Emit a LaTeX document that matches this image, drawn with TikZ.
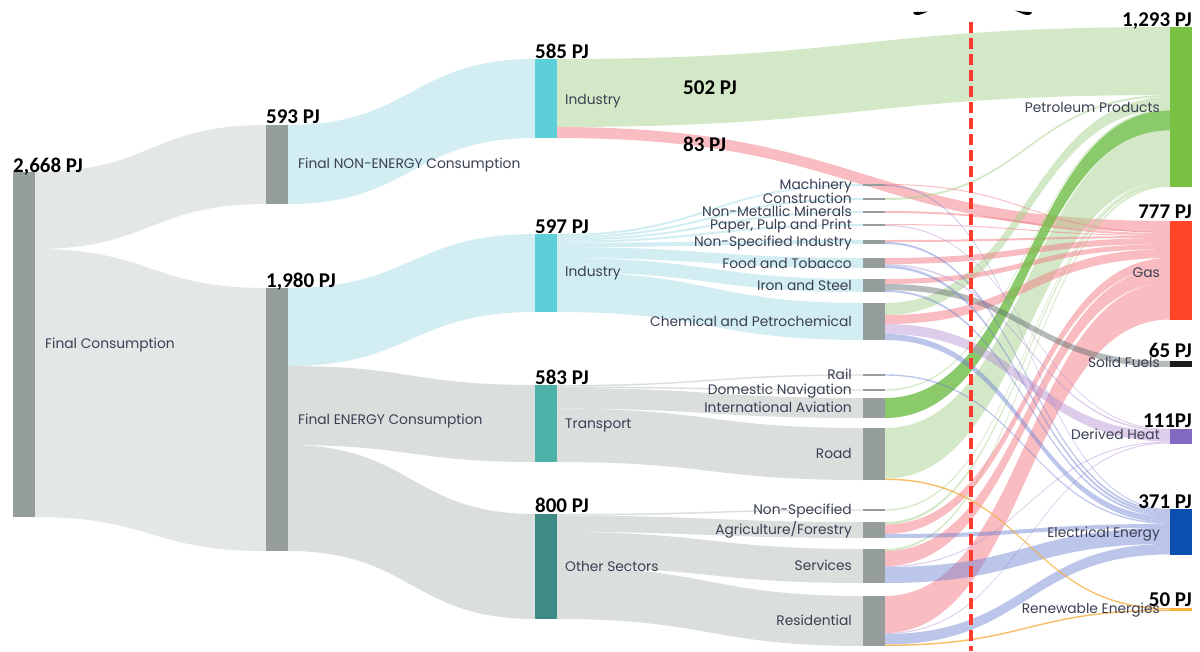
\documentclass[tikz,border=0pt]{standalone}
\usepackage{fontspec}
\newfontfamily\numfont{Carlito}
\newfontfamily\lblfont{Poppins}
\definecolor{bargrey}{HTML}{959E9D}
\definecolor{fgA}{HTML}{E3E7E6}
\definecolor{fgB}{HTML}{DADFDD}
\definecolor{fblue}{HTML}{D2EEF3}
\definecolor{indcyan}{HTML}{5CCFD9}
\definecolor{transcol}{HTML}{4FB2A9}
\definecolor{othercol}{HTML}{3E8B85}
\definecolor{petgreen}{HTML}{78C142}
\definecolor{gasred}{HTML}{FF4428}
\definecolor{solidblk}{HTML}{1C1C1C}
\definecolor{heatpur}{HTML}{8469C2}
\definecolor{elecblue}{HTML}{0B4FAF}
\definecolor{renorange}{HTML}{F7B23B}
\definecolor{pinkbase}{HTML}{F27B85}
\definecolor{greenbase}{HTML}{A9D38E}
\definecolor{aviabase}{HTML}{6FBD45}
\definecolor{bluebase}{HTML}{6C7FD2}
\definecolor{purplebase}{HTML}{B48ED2}
\definecolor{greybase}{HTML}{5D6A68}
\definecolor{orangebase}{HTML}{F5B041}
\definecolor{lbltext}{HTML}{3B3F52}
\definecolor{dashred}{HTML}{FF3B2F}

% a Sankey band: style, x1, top1, bottom1, x2, top2, bottom2
\newcommand\fb[7]{%
  \fill[#1] (#2,#3) .. controls ({(#2+#5)/2},#3) and ({(#2+#5)/2},#6) .. (#5,#6)
    -- (#5,#7) .. controls ({(#2+#5)/2},#7) and ({(#2+#5)/2},#4) .. (#2,#4) -- cycle;}

\begin{document}
\begin{tikzpicture}[x=1pt,y=-1pt,
  num/.style={font=\numfont\bfseries\fontsize{21}{21}\selectfont, inner sep=0pt, text=black},
  lbl/.style={font=\lblfont\fontsize{13.8}{14}\selectfont, inner sep=0pt, text=lbltext},
  fgreen/.style={fill=greenbase, fill opacity=0.5},
  fpink/.style={fill=pinkbase, fill opacity=0.5},
  favia/.style={fill=aviabase, fill opacity=0.8},
  fbl/.style={fill=bluebase, fill opacity=0.45},
  fpur/.style={fill=purplebase, fill opacity=0.45},
  fgr/.style={fill=greybase, fill opacity=0.45},
  forg/.style={fill=orangebase, fill opacity=0.8}]
\useasboundingbox (0,0) rectangle (1200,651);
\fill[white] (0,0) rectangle (1200,651);

% total consumption split
\fb{fgA}{35}{172}{249}{266}{125}{204}
\fb{fgA}{35}{249}{517}{266}{288}{551}
% non-energy / energy to sectors
\fb{fblue}{288}{125}{204}{535}{59}{138}
\fb{fblue}{288}{288}{366}{535}{234}{312}
\fb{fgB}{288}{366}{445}{535}{385}{462}
\fb{fgB}{288}{445}{551}{535}{514}{619}
% industry subsectors
\fb{fblue}{557}{234}{236.2}{863}{184}{186}
\fb{fblue}{557}{236.2}{238.4}{863}{198}{200}
\fb{fblue}{557}{238.4}{240.6}{863}{211}{213}
\fb{fblue}{557}{240.6}{242.8}{863}{224}{226}
\fb{fblue}{557}{242.8}{247.1}{863}{240}{244}
\fb{fblue}{557}{247.1}{258}{863}{258}{268}
\fb{fblue}{557}{258}{272}{863}{279}{292}
\fb{fblue}{557}{272}{312}{863}{303}{340}
% transport subsectors
\fb{fgB}{557}{385}{386.5}{863}{374.3}{375.7}
\fb{fgB}{557}{386.5}{388}{863}{389.3}{390.7}
\fb{fgB}{557}{388}{408.6}{863}{398}{418}
\fb{fgB}{557}{408.6}{462}{863}{428}{480}
% other sectors
\fb{fgB}{557}{514}{515.5}{863}{509.3}{510.7}
\fb{fgB}{557}{515.5}{532}{863}{522}{538}
\fb{fgB}{557}{532}{567.2}{863}{549}{583}
\fb{fgB}{557}{567.2}{619}{863}{596}{646}

% non-energy industry to carriers
\fb{fgreen}{557}{59}{127}{1170}{27}{95}
\fb{fpink}{557}{127}{138}{1170}{221}{232}

% petroleum products
\fb{fgreen}{885}{198}{200}{1170}{95}{97}
\fb{fgreen}{885}{303}{315}{1170}{97}{109}
\fb{fgreen}{885}{389.3}{390.7}{1170}{109}{110.4}
\fb{fgreen}{885}{428}{478.5}{1170}{130.4}{180.9}
\fb{fgreen}{885}{509.3}{510.7}{1170}{180.9}{182.3}
\fb{fgreen}{885}{522}{524.5}{1170}{182.3}{184.8}
\fb{fgreen}{885}{549}{551}{1170}{184.8}{186.8}
% gas
\fb{fpink}{885}{184}{185}{1170}{232}{233}
\fb{fpink}{885}{211}{213}{1170}{233}{235}
\fb{fpink}{885}{224}{225}{1170}{235}{236}
\fb{fpink}{885}{240}{242}{1170}{236}{238}
\fb{fpink}{885}{258}{264}{1170}{238}{244}
\fb{fpink}{885}{279}{284}{1170}{244}{249}
\fb{fpink}{885}{315}{324}{1170}{249}{258}
\fb{fpink}{885}{524.5}{534}{1170}{258}{267.5}
\fb{fpink}{885}{551}{566}{1170}{267.5}{282.5}
\fb{fpink}{885}{596}{633}{1170}{282.5}{319.5}
% international aviation
\fb{favia}{885}{398}{418}{1170}{110.4}{130.4}
% solid fuels
\fb{fgr}{885}{284}{290}{1170}{361}{367}
% derived heat
\fb{fpur}{885}{225}{226}{1170}{429}{430}
\fb{fpur}{885}{264}{265.5}{1170}{430}{431.5}
\fb{fpur}{885}{324}{334}{1170}{431.5}{441.5}
\fb{fpur}{885}{566}{567}{1170}{441.5}{442.5}
\fb{fpur}{885}{633}{634}{1170}{442.5}{443.5}
% electrical energy
\fb{fbl}{885}{185}{186}{1170}{509}{510}
\fb{fbl}{885}{242}{244}{1170}{510}{512}
\fb{fbl}{885}{265.5}{268}{1170}{512}{514.5}
\fb{fbl}{885}{290}{292}{1170}{514.5}{516.5}
\fb{fbl}{885}{334}{340}{1170}{516.5}{522.5}
\fb{fbl}{885}{374.3}{375.7}{1170}{522.5}{523.9}
\fb{fbl}{885}{534}{538}{1170}{523.9}{527.9}
\fb{fbl}{885}{567}{583}{1170}{527.9}{543.9}
\fb{fbl}{885}{634}{644.5}{1170}{543.9}{554.4}
% renewable energies
\fb{forg}{885}{478.5}{480}{1170}{608}{609.5}
\fb{forg}{885}{644.5}{646}{1170}{609.5}{611}

% dashed marker line
\draw[dashred, line width=3.5pt, dash pattern=on 10.5pt off 5.5pt] (971,22) -- (971,651);
% small black marks along the top edge
\fill[black] (913,12.5) .. controls (914,15.5) and (918,15.5) .. (922,14) -- (928,11.5) -- (921,12) .. controls (918,12) and (915,11.5) .. cycle;
\fill[black] (1032,12.5) .. controls (1031,15.5) and (1027,15.5) .. (1023,14) -- (1015,10.5) -- (1022,11.5) .. controls (1025,12) and (1029,11.5) .. cycle;

% bars
\fill[bargrey] (13,172) rectangle (35,517);
\fill[bargrey] (266,125) rectangle (288,204);
\fill[bargrey] (266,288) rectangle (288,551);
\fill[indcyan] (535,59) rectangle (557,138);
\fill[indcyan] (535,234) rectangle (557,312);
\fill[transcol] (535,385) rectangle (557,462);
\fill[othercol] (535,514) rectangle (557,619);
\foreach \t/\b in {184/186,198/200,211/213,224/226,240/244,258/268,279/292,303/340,
  374.3/375.7,389.3/390.7,398/418,428/480,509.3/510.7,522/538,549/583,596/646}
  \fill[bargrey] (863,\t) rectangle (885,\b);
\fill[petgreen] (1170,27) rectangle (1192,187);
\fill[gasred] (1170,221) rectangle (1192,320);
\fill[solidblk] (1170,361) rectangle (1192,367);
\fill[heatpur] (1170,429) rectangle (1192,443.5);
\fill[elecblue] (1170,509) rectangle (1192,555);
\fill[renorange] (1170,608) rectangle (1192,611);

% values
\node[num, anchor=base west] (vtot) at (13,172) {2,668 PJ};
\node[num, anchor=base west] (vne) at (266,123) {593 PJ};
\node[num, anchor=base west] (ven) at (266,287) {1,980 PJ};
\node[num, anchor=base west] (vind1) at (535,58) {585 PJ};
\node[num, anchor=base west] (vind2) at (535,233) {597 PJ};
\node[num, anchor=base west] (vtra) at (535,384) {583 PJ};
\node[num, anchor=base west] (voth) at (535,512) {800 PJ};
\node[num, anchor=base west] (vpet1) at (683,94.5) {502 PJ};
\node[num, anchor=base west] (vgas1) at (683,151) {83 PJ};
\node[num, anchor=base east] (vpet) at (1192,26) {1,293 PJ};
\node[num, anchor=base east] (vgas) at (1192,218) {777 PJ};
\node[num, anchor=base east] (vsol) at (1192,357) {65 PJ};
\node[num, anchor=base east] (vhea) at (1192,427) {111PJ};
\node[num, anchor=base east] (vele) at (1192,508) {371 PJ};
\node[num, anchor=base east] (vren) at (1192,606) {50 PJ};

% names
\node[lbl, anchor=base west] (ltot) at (45,348.5) {Final Consumption};
\node[lbl, anchor=base west] (lne) at (298,168.5) {Final NON-ENERGY Consumption};
\node[lbl, anchor=base west] (len) at (298,424) {Final ENERGY Consumption};
\node[lbl, anchor=base west] (lind1) at (565,104.5) {Industry};
\node[lbl, anchor=base west] (lind2) at (565,276.5) {Industry};
\node[lbl, anchor=base west] (ltra) at (565,428.5) {Transport};
\node[lbl, anchor=base west] (loth) at (565,571.5) {Other Sectors};

\foreach \y/\t [count=\i] in {189.5/Machinery, 203.5/Construction, 216.5/Non-Metallic Minerals,
  229.5/{Paper, Pulp and Print}, 246.5/Non-Specified Industry, 268.5/Food and Tobacco,
  290.5/Iron and Steel, 326.5/Chemical and Petrochemical, 379.5/Rail,
  394.5/Domestic Navigation, 412.5/International Aviation, 458.5/Road,
  514.5/Non-Specified, 534.5/{Agriculture/Forestry}, 570.5/Services, 625.5/Residential}
  \node[lbl, anchor=base east] (sub\i) at (852,\y) {\t};

\node[lbl, anchor=base east] (lpet) at (1160,112.5) {Petroleum Products};
\node[lbl, anchor=base east] (lgas) at (1160,277.5) {Gas};
\node[lbl, anchor=base east] (lsol) at (1160,367.5) {Solid Fuels};
\node[lbl, anchor=base east] (lhea) at (1160,439.5) {Derived Heat};
\node[lbl, anchor=base east] (lele) at (1160,537.5) {Electrical Energy};
\node[lbl, anchor=base east] (lren) at (1160,613.5) {Renewable Energies};
\end{tikzpicture}
\end{document}
